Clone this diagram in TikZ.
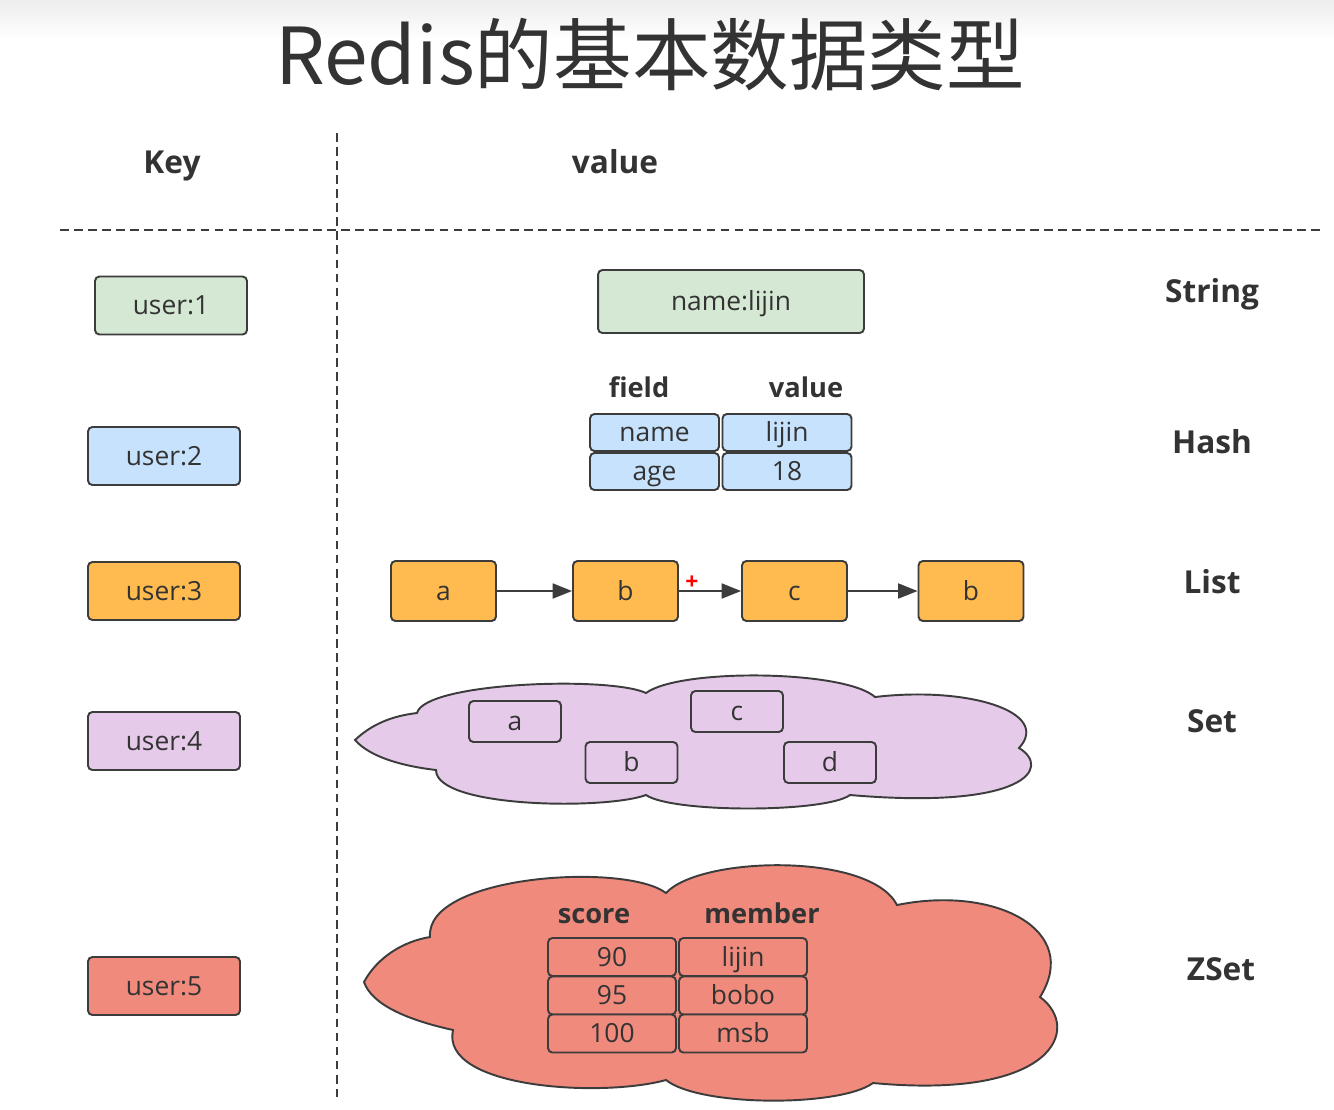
\documentclass[tikz,border=0pt]{standalone}
\usepackage{fontspec}
\setmainfont{Open Sans}
\newfontfamily\cjkfont{Noto Sans CJK SC}
\usetikzlibrary{arrows.meta}
\definecolor{txt}{HTML}{333333}
\definecolor{edge}{HTML}{3C3C3C}
\definecolor{cgreen}{HTML}{D5E8D4}
\definecolor{cblue}{HTML}{C7E2FC}
\definecolor{corange}{HTML}{FFBB4F}
\definecolor{cpurple}{HTML}{E5CBE9}
\definecolor{cred}{HTML}{F08A7C}
\tikzset{
  box/.style={draw=edge, line width=1.1pt, rounded corners=2.5pt, inner sep=0pt, text=txt,
    font=\fontsize{15}{18}\selectfont, text height=11pt, text depth=0.4pt},
  keybox/.style={box, minimum width=3.04cm, minimum height=1.16cm},
  hcell/.style={box, fill=cblue, minimum width=2.58cm, minimum height=0.74cm},
  lbox/.style={box, fill=corange, minimum width=2.1cm, minimum height=1.2cm},
  sbox/.style={box, fill=cpurple, minimum width=1.84cm, minimum height=0.82cm},
  zcell/.style={box, fill=cred, minimum width=2.56cm, minimum height=0.76cm},
  head/.style={inner sep=0pt, text=txt, font=\fontsize{18}{22}\bfseries\selectfont,
    text height=12.6pt, text depth=0.2pt},
  subhead/.style={inner sep=0pt, text=txt, font=\fontsize{15.5}{19}\bfseries\selectfont,
    text height=11.2pt, text depth=0.4pt},
  divider/.style={draw=edge, line width=1pt, dash pattern=on 5pt off 3pt},
  conn/.style={draw=edge, line width=1.1pt, -{Triangle[length=11pt,width=8.5pt]}},
  cloud/.style={draw=edge, line width=1.1pt}
}
\begin{document}
\begin{tikzpicture}[x=0.02cm,y=-0.02cm]
\fill[white] (0,0) rectangle (1334,1109);
\shade[top color=black!7, bottom color=white] (0,0) rectangle (1334,40);
\useasboundingbox (0,0) rectangle (1334,1109);

% title
\node[inner sep=0pt, text=txt, font=\cjkfont\fontsize{44.7}{50}\selectfont] (title) at (650,55) {Redis的基本数据类型};

% headers
\node[head] (hkey) at (172,163) {Key};
\node[head] (hval) at (615,163) {value};

% dividers
\coordinate (vtop) at (337,133);
\coordinate (vbot) at (337,1097);
\coordinate (hl) at (60,230);
\coordinate (hr) at (1325,230);
\draw[divider] (vtop) -- (vbot);
\draw[divider] (hl) -- (hr);

% keys
\node[keybox, fill=cgreen] (k1) at (171,305.5) {user:1};
\node[keybox, fill=cblue] (k2) at (164,456) {user:2};
\node[keybox, fill=corange] (k3) at (164,591) {user:3};
\node[keybox, fill=cpurple] (k4) at (164,741) {user:4};
\node[keybox, fill=cred] (k5) at (164,986) {user:5};

% type labels
\node[head] (tstring) at (1212,292) {String};
\node[head] (thash) at (1212,443) {Hash};
\node[head] (tlist) at (1212,583) {List};
\node[head] (tset) at (1212,722) {Set};
\node[head] (tzset) at (1221,970) {ZSet};

% string
\node[box, fill=cgreen, minimum width=5.32cm, minimum height=1.26cm] (sval) at (731,301.5) {name:lijin};

% hash
\node[subhead] (hfield) at (639,388) {field};
\node[subhead] (hvalue) at (806,388) {value};
\node[hcell] (h11) at (654.5,432.5) {name};
\node[hcell] (h12) at (787,432.5) {lijin};
\node[hcell] (h21) at (654.5,471.5) {age};
\node[hcell] (h22) at (787,471.5) {18};

% list
\node[lbox] (la) at (443.5,591) {a};
\node[lbox] (lb) at (625.5,591) {b};
\node[lbox] (lc) at (794.5,591) {c};
\node[lbox] (ld) at (971,591) {b};
\draw[conn] (la) -- (lb);
\draw[conn] (lb) -- (lc);
\draw[conn] (lc) -- (ld);
\node[inner sep=0pt, text=red, font=\fontsize{13}{14}\bfseries\selectfont] (plus) at (692,583) {+};

% set cloud
\draw[cloud, fill=cpurple]
  (355,740) .. controls (372,724) and (392,716) .. (417,713)
  .. controls (425,682) and (610,676) .. (646,693)
  .. controls (680,668) and (845,670) .. (875,697)
  .. controls (968,686) and (1052,712) .. (1019,748)
  .. controls (1052,768) and (1025,810) .. (850,795)
  .. controls (825,813) and (672,813) .. (646,795)
  .. controls (605,810) and (436,808) .. (436,770)
  .. controls (402,766) and (370,757) .. (355,740) -- cycle;
\node[sbox] (sa) at (515,721.5) {a};
\node[sbox] (sc) at (737,711.5) {c};
\node[sbox] (sb) at (631.5,762.5) {b};
\node[sbox] (sd) at (830,762.5) {d};

% zset cloud
\draw[cloud, fill=cred]
  (364,982) .. controls (378,956) and (405,941) .. (430,937)
  .. controls (425,875) and (625,862) .. (666,893)
  .. controls (700,856) and (870,852) .. (897,905)
  .. controls (995,885) and (1082,930) .. (1040,997)
  .. controls (1082,1028) and (1055,1100) .. (873,1083)
  .. controls (840,1107) and (700,1107) .. (666,1080)
  .. controls (600,1098) and (440,1088) .. (453,1030)
  .. controls (408,1020) and (372,1005) .. (364,982) -- cycle;
\node[subhead] (zscore) at (594,914) {score};
\node[subhead] (zmember) at (762,914) {member};
\node[zcell] (z11) at (612,957) {90};
\node[zcell] (z12) at (743,957) {lijin};
\node[zcell] (z21) at (612,995.5) {95};
\node[zcell] (z22) at (743,995.5) {bobo};
\node[zcell] (z31) at (612,1033.5) {100};
\node[zcell] (z32) at (743,1033.5) {msb};
\end{tikzpicture}
\end{document}
